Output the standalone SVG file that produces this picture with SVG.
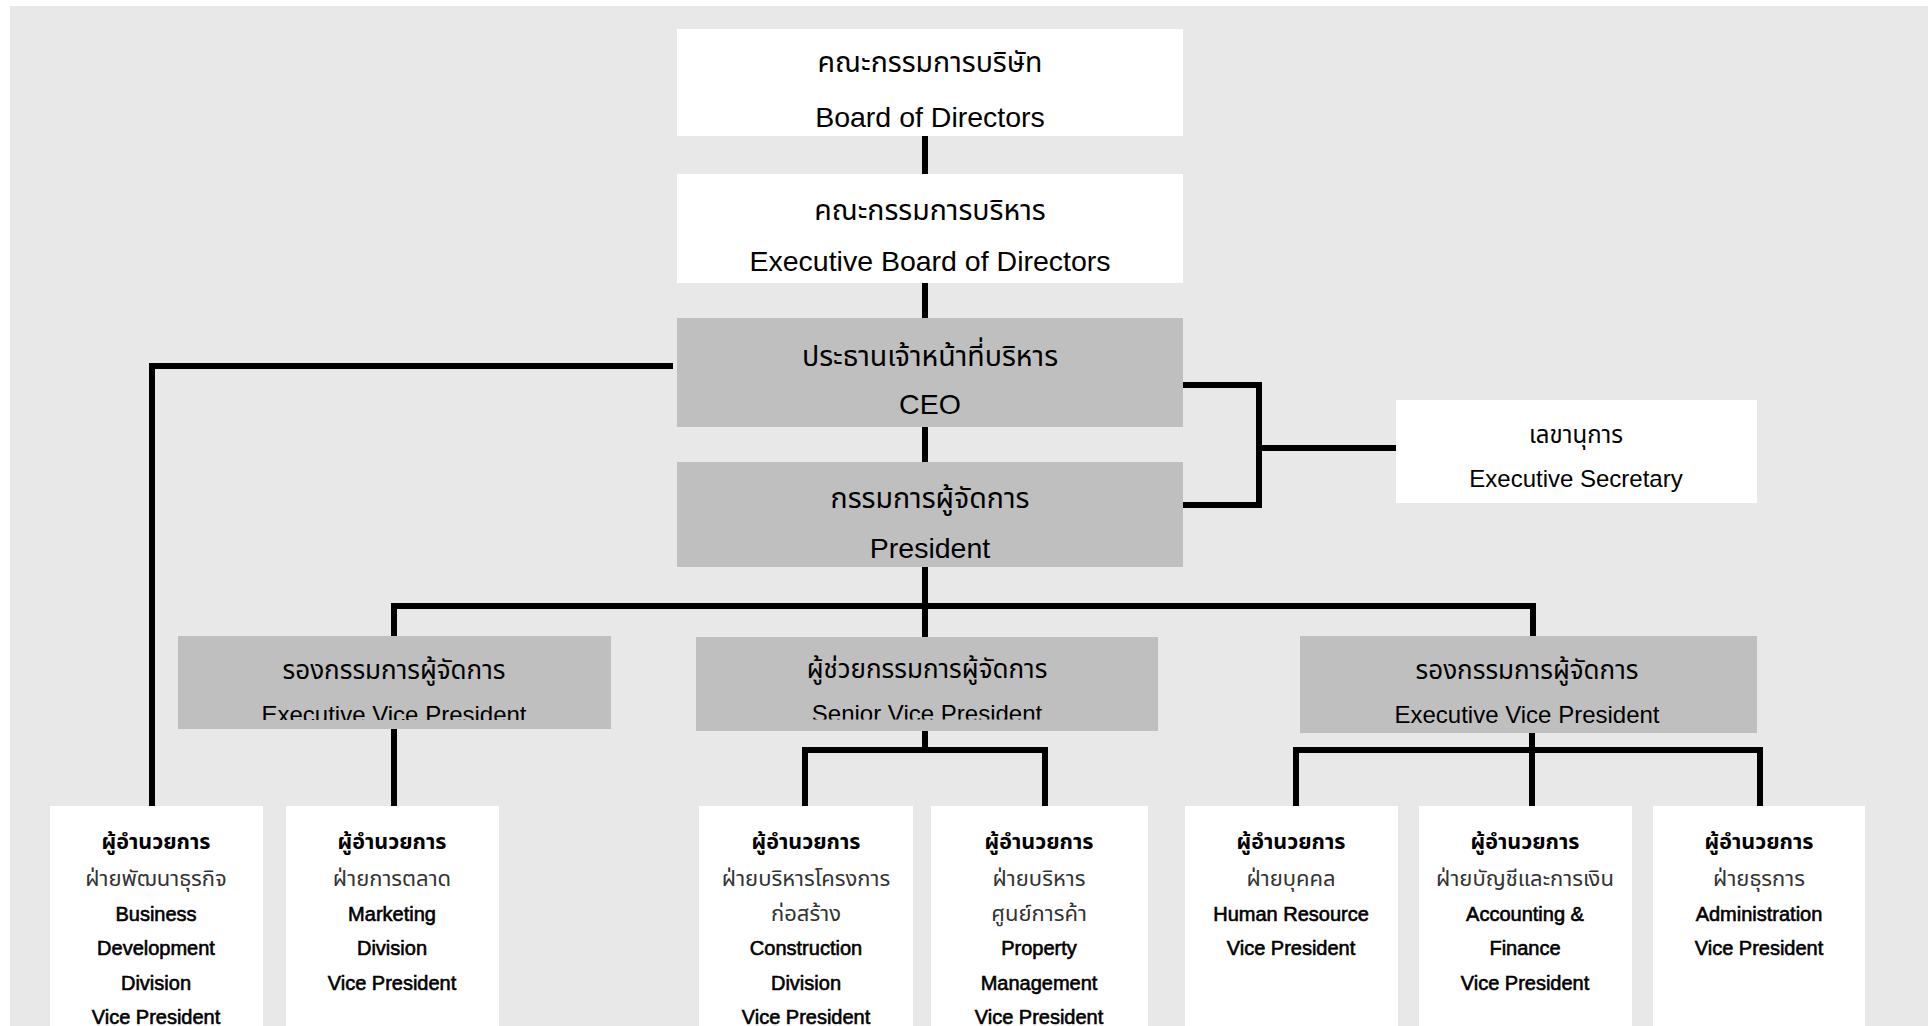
<svg xmlns="http://www.w3.org/2000/svg" width="1928" height="1026" viewBox="0 0 1928 1026">
<style>
.bg{fill:#e8e8e8}
.w{fill:#ffffff}
.g{fill:#bfbfbf}
.th{font-family:"Noto Sans Thai","Liberation Sans","Noto Sans",sans-serif;fill:#000;text-anchor:middle}
.en{font-family:"Liberation Sans",Arial,sans-serif;fill:#000;text-anchor:middle}
.t1{font-size:28.5px}
.t2{font-size:26px}
.t3{font-size:24px}
.hb{font-size:21.5px;font-weight:bold}
.hs{font-size:22px;fill:#333}
.eb{font-size:20px;stroke:#000;stroke-width:0.6px}
.con{fill:none;stroke:#000;stroke-width:6;stroke-linejoin:miter}
</style>
<defs>
<clipPath id="clipEvpL"><rect x="178" y="636" width="433" height="84"/></clipPath>
<clipPath id="clipSvp"><rect x="696" y="637" width="462" height="82.5"/></clipPath>
</defs>
<rect x="0" y="0" width="1928" height="1026" fill="#ffffff"/>
<rect class="bg" x="10" y="6" width="1918" height="1020"/>

<g id="connectors">
<path class="con" d="M925 135 V175 M925 282 V319 M925 426 V463 M925 567 V637"/>
<path class="con" d="M394 637 V606 H1533 V637"/>
<path class="con" d="M673 366 H152 V806"/>
<path class="con" d="M394 729 V806"/>
<path class="con" d="M925 730 V750 M805 806 V750 H1045 V806"/>
<path class="con" d="M1532 732 V806 M1296 806 V750 H1760 V806"/>
<path class="con" d="M1183 385 H1259 V505 H1183 M1259 448 H1396"/>
</g>

<g id="board">
<rect class="w" x="677" y="29" width="506" height="107"/>
<text class="th t1" x="930" y="72">คณะกรรมการบริษัท</text>
<text class="en t1" x="930" y="127">Board of Directors</text>
</g>
<g id="exec-board">
<rect class="w" x="677" y="174" width="506" height="109"/>
<text class="th t1" x="930" y="220">คณะกรรมการบริหาร</text>
<text class="en t1" x="930" y="271">Executive Board of Directors</text>
</g>
<g id="ceo">
<rect class="g" x="677" y="318" width="506" height="109"/>
<text class="th t1" x="930" y="366">ประธานเจ้าหน้าที่บริหาร</text>
<text class="en t1" x="930" y="414">CEO</text>
</g>
<g id="president">
<rect class="g" x="677" y="462" width="506" height="105"/>
<text class="th t1" x="930" y="508">กรรมการผู้จัดการ</text>
<text class="en t1" x="930" y="558">President</text>
</g>
<g id="secretary">
<rect class="w" x="1396" y="400" width="361" height="103"/>
<text class="th t3" x="1576" y="443">เลขานุการ</text>
<text class="en t3" x="1576" y="487">Executive Secretary</text>
</g>

<g id="evp-left">
<rect class="g" x="178" y="636" width="433" height="93"/>
<text class="th t2" x="394" y="679">รองกรรมการผู้จัดการ</text>
<text class="en t3" x="394" y="723" clip-path="url(#clipEvpL)">Executive Vice President</text>
</g>
<g id="svp">
<rect class="g" x="696" y="637" width="462" height="94"/>
<text class="th t2" x="927" y="678">ผู้ช่วยกรรมการผู้จัดการ</text>
<text class="en t3" x="927" y="722" clip-path="url(#clipSvp)">Senior Vice President</text>
</g>
<g id="evp-right">
<rect class="g" x="1300" y="636" width="457" height="97"/>
<text class="th t2" x="1527" y="679">รองกรรมการผู้จัดการ</text>
<text class="en t3" x="1527" y="723">Executive Vice President</text>
</g>

<g id="vp-business">
<rect class="w" x="50" y="806" width="213" height="220"/>
<text class="th hb" x="156" y="849">ผู้อำนวยการ</text>
<text class="th hs" x="156" y="886">ฝ่ายพัฒนาธุรกิจ</text>
<text class="en eb" x="156" y="921">Business</text>
<text class="en eb" x="156" y="955">Development</text>
<text class="en eb" x="156" y="990">Division</text>
<text class="en eb" x="156" y="1024">Vice President</text>
</g>
<g id="vp-marketing">
<rect class="w" x="286" y="806" width="213" height="220"/>
<text class="th hb" x="392" y="849">ผู้อำนวยการ</text>
<text class="th hs" x="392" y="886">ฝ่ายการตลาด</text>
<text class="en eb" x="392" y="921">Marketing</text>
<text class="en eb" x="392" y="955">Division</text>
<text class="en eb" x="392" y="990">Vice President</text>
</g>
<g id="vp-construction">
<rect class="w" x="699" y="806" width="214" height="220"/>
<text class="th hb" x="806" y="849">ผู้อำนวยการ</text>
<text class="th hs" x="806" y="886">ฝ่ายบริหารโครงการ</text>
<text class="th hs" x="806" y="921">ก่อสร้าง</text>
<text class="en eb" x="806" y="955">Construction</text>
<text class="en eb" x="806" y="990">Division</text>
<text class="en eb" x="806" y="1024">Vice President</text>
</g>
<g id="vp-property">
<rect class="w" x="931" y="806" width="217" height="220"/>
<text class="th hb" x="1039" y="849">ผู้อำนวยการ</text>
<text class="th hs" x="1039" y="886">ฝ่ายบริหาร</text>
<text class="th hs" x="1039" y="921">ศูนย์การค้า</text>
<text class="en eb" x="1039" y="955">Property</text>
<text class="en eb" x="1039" y="990">Management</text>
<text class="en eb" x="1039" y="1024">Vice President</text>
</g>
<g id="vp-hr">
<rect class="w" x="1185" y="806" width="213" height="220"/>
<text class="th hb" x="1291" y="849">ผู้อำนวยการ</text>
<text class="th hs" x="1291" y="886">ฝ่ายบุคคล</text>
<text class="en eb" x="1291" y="921">Human Resource</text>
<text class="en eb" x="1291" y="955">Vice President</text>
</g>
<g id="vp-accounting">
<rect class="w" x="1419" y="806" width="213" height="220"/>
<text class="th hb" x="1525" y="849">ผู้อำนวยการ</text>
<text class="th hs" x="1525" y="886">ฝ่ายบัญชีและการเงิน</text>
<text class="en eb" x="1525" y="921">Accounting &amp;</text>
<text class="en eb" x="1525" y="955">Finance</text>
<text class="en eb" x="1525" y="990">Vice President</text>
</g>
<g id="vp-admin">
<rect class="w" x="1653" y="806" width="212" height="220"/>
<text class="th hb" x="1759" y="849">ผู้อำนวยการ</text>
<text class="th hs" x="1759" y="886">ฝ่ายธุรการ</text>
<text class="en eb" x="1759" y="921">Administration</text>
<text class="en eb" x="1759" y="955">Vice President</text>
</g>
</svg>
